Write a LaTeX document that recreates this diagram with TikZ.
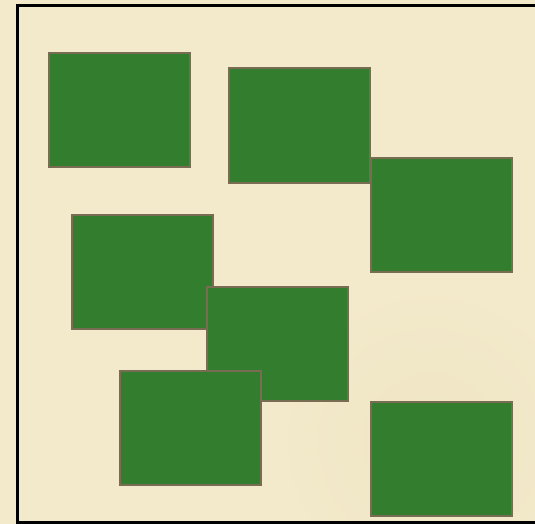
\documentclass[tikz,border=0pt]{standalone}
\definecolor{parch}{HTML}{F3EACB}
\definecolor{parchdark}{HTML}{EBE0BC}
\definecolor{boxgreen}{HTML}{327D2E}
\definecolor{boxedge}{HTML}{786C53}
\begin{document}
\begin{tikzpicture}[x=1pt,y=-1pt,
  greenbox/.style={draw=boxedge,fill=boxgreen,line width=2pt,inner sep=0pt,
    minimum width=141pt,minimum height=114pt,anchor=north west}]
\useasboundingbox (0,0) rectangle (535,524);
\begin{scope}
\clip (0,0) rectangle (535,524);
\fill[parch] (0,0) rectangle (535,524);
\shade[inner color=parchdark,outer color=parch,opacity=0.4] (430,440) circle (150);
\draw[black,line width=3pt] (17.5,6) rectangle (536,522.5);
\end{scope}
\node[greenbox] (b1) at (48,52) {};
\node[greenbox] (b2) at (227.5,67.5) {};
\node[greenbox] (b3) at (369.5,157) {};
\node[greenbox] (b4) at (70.5,214) {};
\node[greenbox] (b5) at (205.5,286) {};
\node[greenbox] (b6) at (118.5,369.5) {};
\node[greenbox] (b7) at (369.5,401) {};
\end{tikzpicture}
\end{document}
